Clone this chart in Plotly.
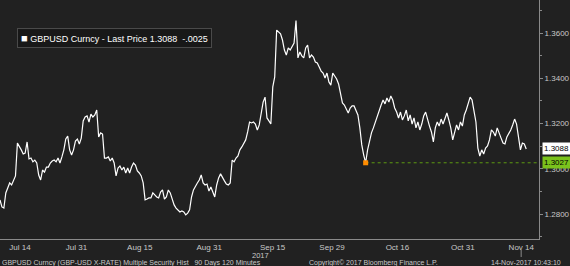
import pandas as pd
import plotly.graph_objects as go

# GBPUSD 8-hour closes (weekday bars, Jul 10 16:00 -> Nov 14 08:00)
close = [
    1.2863, 1.2832, 1.2827, 1.2894, 1.2916, 1.2938, 1.2929, 1.2951, 1.2969, 1.3114,
    1.3101, 1.3084, 1.3066, 1.3070, 1.3119, 1.3044, 1.3048, 1.3031, 1.3039, 1.3026,
    1.2973, 1.2951, 1.2995, 1.2986, 1.3008, 1.3008, 1.3026, 1.3035, 1.3039, 1.3031,
    1.3048, 1.3026, 1.3053, 1.3084, 1.3132, 1.3145, 1.3084, 1.3061, 1.3084, 1.3123,
    1.3132, 1.3110, 1.3136, 1.3212, 1.3229, 1.3234, 1.3207, 1.3242, 1.3229, 1.3238,
    1.3260, 1.3141, 1.3159, 1.3154, 1.3048, 1.3048, 1.3053, 1.3035, 1.3048, 1.3026,
    1.2969, 1.3004, 1.3013, 1.2995, 1.3008, 1.2982, 1.3004, 1.2982, 1.3008, 1.3026,
    1.3017, 1.2991, 1.2982, 1.2969, 1.2938, 1.2863, 1.2867, 1.2872, 1.2872, 1.2894,
    1.2885, 1.2876, 1.2872, 1.2898, 1.2907, 1.2867, 1.2876, 1.2907, 1.2894, 1.2867,
    1.2841, 1.2827, 1.2819, 1.2810, 1.2814, 1.2810, 1.2797, 1.2805, 1.2819, 1.2876,
    1.2907, 1.2925, 1.2938, 1.2951, 1.2973, 1.2938, 1.2929, 1.2933, 1.2902, 1.2920,
    1.2898, 1.2876, 1.2929, 1.2960, 1.2978, 1.2960, 1.2947, 1.2933, 1.2929, 1.2938,
    1.3039, 1.3031, 1.3048, 1.3057, 1.3084, 1.3097, 1.3110, 1.3128, 1.3163, 1.3207,
    1.3203, 1.3207, 1.3198, 1.3172, 1.3194, 1.3247, 1.3295, 1.3317, 1.3225, 1.3212,
    1.3198, 1.3362, 1.3406, 1.3613, 1.3604, 1.3596, 1.3569, 1.3525, 1.3503, 1.3534,
    1.3525, 1.3538, 1.3556, 1.3655, 1.3490, 1.3516, 1.3499, 1.3490, 1.3534, 1.3547,
    1.3490, 1.3503, 1.3494, 1.3472, 1.3468, 1.3450, 1.3432, 1.3423, 1.3401, 1.3423,
    1.3384, 1.3370, 1.3423, 1.3410, 1.3397, 1.3375, 1.3340, 1.3291, 1.3282, 1.3265,
    1.3247, 1.3269, 1.3278, 1.3278, 1.3260, 1.3238, 1.3181, 1.3106, 1.3061, 1.3027,
    1.3084, 1.3128, 1.3159, 1.3181, 1.3207, 1.3238, 1.3260, 1.3282, 1.3304, 1.3287,
    1.3313, 1.3295, 1.3322, 1.3304, 1.3269, 1.3251, 1.3225, 1.3251, 1.3216, 1.3234,
    1.3260, 1.3212, 1.3238, 1.3198, 1.3225, 1.3181, 1.3207, 1.3172, 1.3198, 1.3234,
    1.3251, 1.3216, 1.3189, 1.3163, 1.3119, 1.3181, 1.3207, 1.3189, 1.3220, 1.3198,
    1.3225, 1.3247, 1.3216, 1.3181, 1.3128, 1.3163, 1.3194, 1.3172, 1.3207, 1.3189,
    1.3238, 1.3260, 1.3291, 1.3317, 1.3304, 1.3251, 1.3207, 1.3092, 1.3057, 1.3084,
    1.3066, 1.3092, 1.3101, 1.3128, 1.3172, 1.3163, 1.3145, 1.3181, 1.3154, 1.3136,
    1.3114, 1.3110, 1.3141, 1.3154, 1.3172, 1.3194, 1.3220, 1.3198, 1.3128, 1.3084,
    1.3114, 1.3110, 1.3088,
]
bar_start = "2017-07-10 16:00"
bar_end = "2017-11-14 08:00"
net_change = "-.0025"

tick_labels = ["Jul 14", "Jul 31", "Aug 15", "Aug 31", "Sep 15", "Sep 29", "Oct 16", "Oct 31", "Nov 14"]
tick_dates = ["2017-07-14 02:30", "2017-07-27 20:00", "2017-08-11 18:00", "2017-08-29 17:00",
              "2017-09-13 15:00", "2017-09-27 21:00", "2017-10-13 03:20", "2017-10-30 10:00",
              "2017-11-13 11:30"]
y_ticks = [1.28, 1.30, 1.32, 1.34, 1.36]
x_range = ["2017-07-10 16:00", "2017-11-16 12:48"]
y_range = [1.26905, 1.37457]

times = [t for t in pd.date_range(bar_start, bar_end, freq="8h") if t.weekday() < 5]
assert len(times) == len(close)

peak_i = close.index(max(close))
low_val = min(close[peak_i:])
low_i = close.index(low_val, peak_i)

BG = "#212121"
TXT = "#c8c8c8"
AX = "#8a8a8a"
GREEN = "#7ac21c"

fig = go.Figure()
fig.add_trace(go.Scatter(x=times, y=close, mode="lines",
                         line=dict(color="white", width=1.2), hoverinfo="skip"))
fig.add_trace(go.Scatter(x=[times[low_i], x_range[1]], y=[low_val, low_val], mode="lines",
                         line=dict(color="#5d9a12", width=1, dash="dot"), hoverinfo="skip"))
fig.add_trace(go.Scatter(x=[times[low_i]], y=[low_val], mode="markers",
                         marker=dict(color="#ff8c00", size=5, symbol="square"), hoverinfo="skip"))

fig.update_layout(
    width=570, height=266, margin=dict(l=0, r=26, t=0, b=27),
    paper_bgcolor=BG, plot_bgcolor=BG, showlegend=False,
    font=dict(family="Liberation Sans, Arial, sans-serif", color=TXT, size=8),
)
fig.update_xaxes(
    type="date", range=x_range, rangebreaks=[dict(bounds=["sat", "mon"])],
    tickmode="array", tickvals=tick_dates, ticktext=tick_labels,
    showgrid=False, zeroline=False, showline=True, linecolor=AX, linewidth=1,
    ticks="", tickfont=dict(size=8, color=TXT),
)
fig.update_yaxes(
    side="right", range=y_range, tickmode="array", tickvals=y_ticks,
    ticktext=[f"{v:.4f}" for v in y_ticks],
    showgrid=False, zeroline=False, showline=True, linecolor=AX, linewidth=1,
    ticks="outside", ticklen=3, tickcolor=AX, tickfont=dict(size=8, color=TXT),
    minor=dict(tickmode="linear", dtick=0.01, ticks="outside", ticklen=2, tickcolor=AX),
)

fig.add_annotation(
    xref="paper", yref="paper", x=17 / 544, y=1 - 28 / 239, xanchor="left", yanchor="top",
    text=f"<span style='font-size:11px'>■</span> GBPUSD Curncy - Last Price {close[-1]:.4f}&nbsp;&nbsp;{net_change}",
    showarrow=False, font=dict(size=9, color="white"),
    bgcolor="#181818", bordercolor="#4a4a4a", borderwidth=1, borderpad=3,
)
fig.add_annotation(xref="paper", yref="y", x=1, y=close[-1], xanchor="left", yanchor="middle",
                   xshift=3, text=f"{close[-1]:.4f}", showarrow=False,
                   font=dict(size=8, color="black"), bgcolor="white", borderpad=1)
fig.add_annotation(xref="paper", yref="y", x=1, y=low_val, xanchor="left", yanchor="middle",
                   xshift=3, text=f"{low_val:.4f}", showarrow=False,
                   font=dict(size=8, color="black"), bgcolor=GREEN, borderpad=1)

fig.add_annotation(xref="paper", yref="paper", x=263 / 544, y=(239 - 255) / 239,
                   xanchor="center", yanchor="middle", text="2017", showarrow=False,
                   font=dict(size=7.5, color=TXT))
fig.add_annotation(xref="paper", yref="paper", x=0, y=(239 - 262.5) / 239, xanchor="left",
                   yanchor="middle", showarrow=False, font=dict(size=7, color=TXT),
                   text="GBPUSD Curncy (GBP-USD X-RATE) Multiple Security Hist&nbsp;&nbsp;&nbsp;90 Days 120 Minutes")
fig.add_annotation(xref="paper", yref="paper", x=310 / 544, y=(239 - 262.5) / 239, xanchor="left",
                   yanchor="middle", showarrow=False, font=dict(size=7, color=TXT),
                   text="Copyright© 2017 Bloomberg Finance L.P.")
fig.add_annotation(xref="paper", yref="paper", x=568 / 544, y=(239 - 262.5) / 239, xanchor="right",
                   yanchor="middle", showarrow=False, font=dict(size=7, color=TXT),
                   text="14-Nov-2017 10:43:10")
fig.add_shape(type="line", xref="paper", yref="paper", x0=526 / 544, x1=526 / 544,
              y0=(239 - 250) / 239, y1=(239 - 257) / 239, line=dict(color=AX, width=1))

fig.write_html("out.html")
